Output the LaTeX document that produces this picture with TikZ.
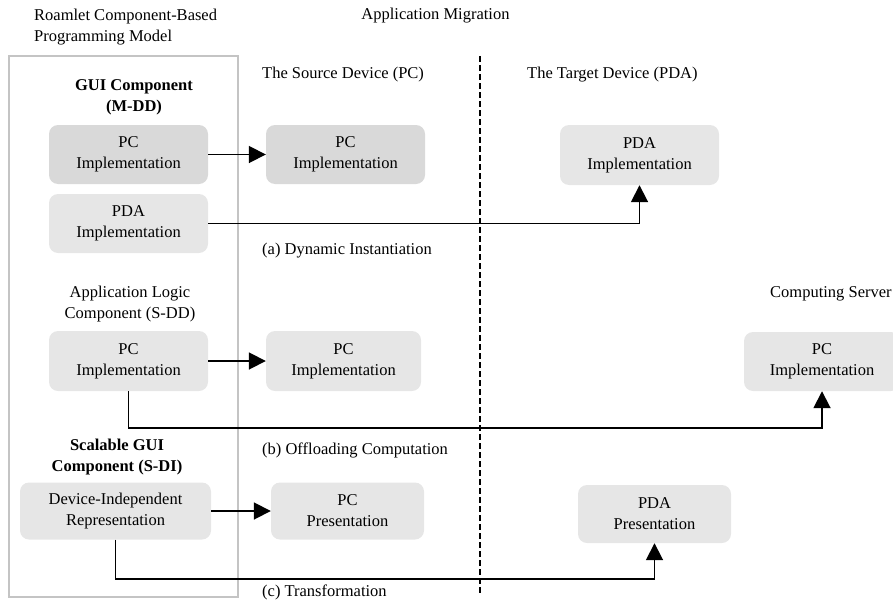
\documentclass[tikz,border=0pt]{standalone}
\usepackage{fontspec}
\setmainfont{Liberation Serif}
\usetikzlibrary{arrows.meta}
\definecolor{boxdark}{HTML}{D9D9D9}
\definecolor{boxlight}{HTML}{E6E6E6}
\definecolor{framegray}{HTML}{C4C4C4}
\begin{document}
\begin{tikzpicture}[x=1pt,y=-1pt,
  font=\fontsize{16.5}{21}\selectfont,
  impl/.style={rounded corners=9pt, inner sep=0pt, align=center},
  dark/.style={impl, fill=boxdark},
  light/.style={impl, fill=boxlight},
  lbl/.style={inner sep=0pt, anchor=west},
  clbl/.style={inner sep=0pt, align=center},
  conn/.style={line width=1.8pt, -{Triangle[length=17pt,width=17pt]}},
  conn2/.style={conn}
]
\useasboundingbox (0,0) rectangle (893,602);
% frame and divider
\draw[framegray, line width=1.5pt] (9,56) rectangle (238,597);
\draw[line width=1.3pt, dash pattern=on 6pt off 3pt] (480,56) -- (480,594);
% headings
\node[lbl, align=left] (hmodel) at (34,27) {Roamlet Component-Based\\Programming Model};
\node[clbl] (hmig) at (435.5,16) {Application Migration};
\node[lbl] (hsrc) at (262,75) {The Source Device (PC)};
\node[lbl] (htgt) at (527,75) {The Target Device (PDA)};
\node[lbl] (hsrv) at (770,294) {Computing Server};
% component titles
\node[clbl, font=\fontsize{16.5}{21}\selectfont\bfseries] (tgui) at (134,97.5) {GUI Component\\(M-DD)};
\node[clbl] (tlogic) at (130,304.5) {Application Logic\\Component (S-DD)};
\node[clbl, font=\fontsize{16.5}{21}\selectfont\bfseries] (tscal) at (117,457) {Scalable GUI\\Component (S-DI)};
% captions
\node[lbl] (ca) at (262,251) {(a) Dynamic Instantiation};
\node[lbl] (cb) at (262,450) {(b) Offloading Computation};
\node[lbl] (cc) at (262,592) {(c) Transformation};
% boxes
\node[dark, minimum width=159pt, minimum height=59pt] (gpc) at (128.5,154.5) {PC\\Implementation};
\node[dark, minimum width=159pt, minimum height=59pt] (spc1) at (345.5,154.5) {PC\\Implementation};
\node[light, minimum width=159pt, minimum height=59pt] (gpda) at (128.5,223.5) {PDA\\Implementation};
\node[light, minimum width=159pt, minimum height=60pt] (tpda) at (639.5,155) {PDA\\Implementation};
\node[light, minimum width=159pt, minimum height=60pt] (lpc) at (128.5,361) {PC\\Implementation};
\node[light, minimum width=155pt, minimum height=60pt] (spc2) at (343.5,361) {PC\\Implementation};
\node[light, minimum width=156pt, minimum height=59pt] (cpc) at (822,361.5) {PC\\Implementation};
\node[light, minimum width=191pt, minimum height=57pt] (dir) at (115.5,511) {Device-Independent\\Representation};
\node[light, minimum width=153pt, minimum height=57pt] (ppc) at (347.5,511) {PC\\Presentation};
\node[light, minimum width=153pt, minimum height=58pt] (ppda) at (654.5,514) {PDA\\Presentation};
% connectors
\coordinate (yb) at (0,428);
\coordinate (yc) at (0,579);
\draw[conn] (gpc.east) -- (spc1.west);
\draw[conn2] (gpda.east) -| (tpda.south);
\draw[conn] (lpc.east) -- (spc2.west);
\draw[conn2] (lpc.south) -- (lpc.south |- yb) -| (cpc.south);
\draw[conn] (dir.east) -- (ppc.west);
\draw[conn2] (dir.south) -- (dir.south |- yc) -| (ppda.south);
\end{tikzpicture}
\end{document}
